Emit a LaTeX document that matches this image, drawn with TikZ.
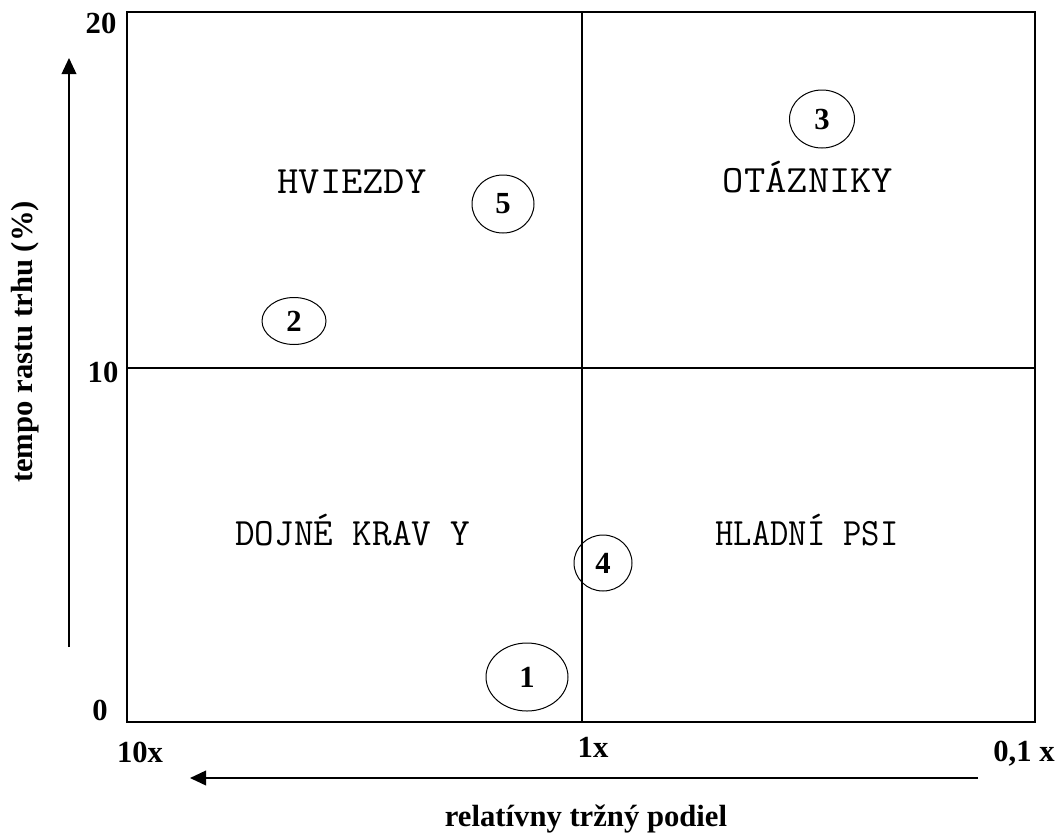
\documentclass[tikz,border=0pt]{standalone}
\usepackage{graphicx}
\usepackage{fontspec}
\setmainfont{Liberation Serif}
\newfontfamily\quadfont{Latin Modern Mono}[FakeStretch=1.07]
\usetikzlibrary{arrows.meta,shapes.geometric}

\begin{document}
\begin{tikzpicture}[x=0.75pt,y=-0.75pt,
  frame/.style={line width=1.5pt},
  divider/.style={line width=1.1pt},
  axisarrow/.style={line width=1.2pt,-{Triangle[length=12pt,width=11pt]}},
  ticklabel/.style={font=\fontsize{23}{23}\selectfont\bfseries,inner sep=0pt,anchor=base},
  axislabel/.style={font=\fontsize{23}{23}\selectfont\bfseries,inner sep=0pt,anchor=base},
  quadlabel/.style={font=\quadfont\fontsize{29}{29}\selectfont,inner sep=0pt,anchor=base},
  item/.style={draw,ellipse,line width=0.75pt,inner sep=0pt,font=\fontsize{23}{23}\selectfont\bfseries},
]
\useasboundingbox (0,0) rectangle (1062,835);
\fill[white] (0,0) rectangle (1062,835);

% matrix frame and quadrant dividers
\draw[frame] (127,12) rectangle (1035,722);
\draw[divider] (582,12) -- (582,722);
\draw[divider] (127,368) -- (1035,368);

% axis arrows
\coordinate (ystart) at (69,647);
\coordinate (yend) at (69,58);
\coordinate (xstart) at (978,778);
\coordinate (xend) at (190,778);
\draw[axisarrow] (ystart) -- (yend);
\draw[axisarrow] (xstart) -- (xend);

% scale labels
\node[ticklabel] (y20) at (101,33) {20};
\node[ticklabel] (y10) at (103,382) {10};
\node[ticklabel] (y0) at (100,720) {0};
\node[ticklabel] (x10) at (140,762) {10x};
\node[ticklabel] (x1) at (593,757) {1x};
\node[ticklabel] (x01) at (1024,761) {0,1 x};

% axis titles
\node[axislabel] (xtitle) at (586,826) {relatívny tržný podiel};
\node[axislabel,rotate=90] (ytitle) at (32,342) {tempo rastu trhu (\%)};

% quadrant names
\node[quadlabel] (stars) at (352,193) {HVIEZDY};
\node[quadlabel] (question) at (808,192) {OTÁZNIKY};
\node[quadlabel] (cows) at (353,545) {\scalebox{0.92}[1]{DOJNÉ KRAV Y}};
\node[quadlabel] (dogs) at (807,545) {\scalebox{0.86}[1]{HLADNÍ PSI}};

% products
\node[item,minimum width=61.5pt,minimum height=51pt] (p1) at (527,677) {1};
\node[item,minimum width=48pt,minimum height=35.25pt] (p2) at (294,321) {2};
\node[item,minimum width=48.75pt,minimum height=43.5pt] (p3) at (822,119) {3};
\node[item,minimum width=43.5pt,minimum height=42pt] (p4) at (603,563) {4};
\node[item,minimum width=46.5pt,minimum height=43.5pt] (p5) at (503,204) {5};
\end{tikzpicture}
\end{document}
